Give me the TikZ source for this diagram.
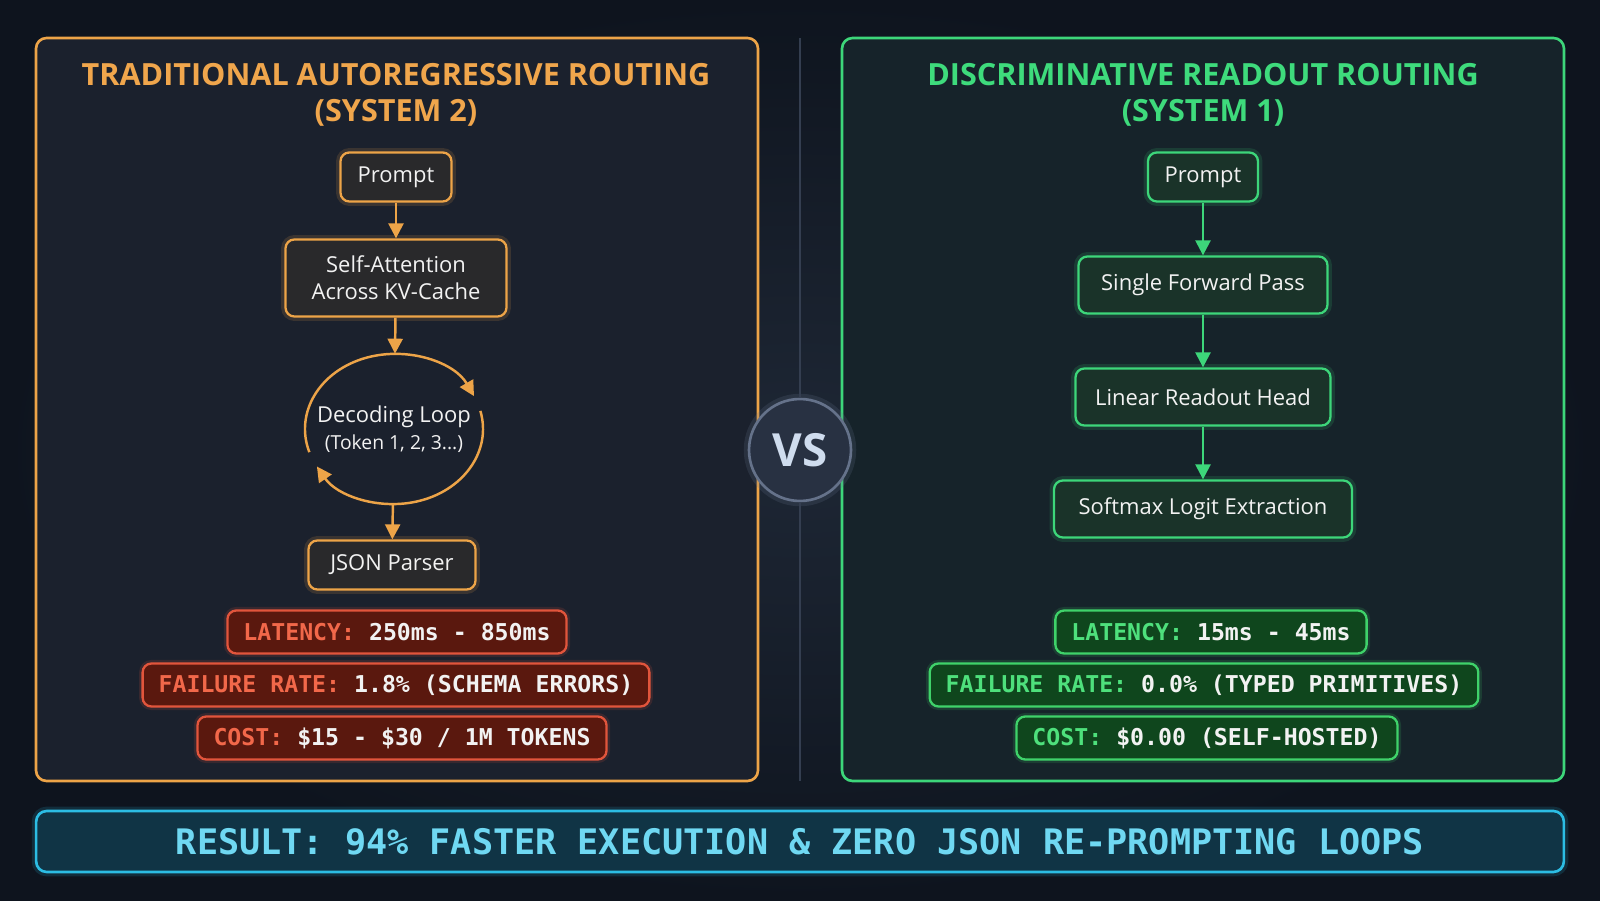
\documentclass[tikz,border=0pt]{standalone}
\usepackage{fontspec}
\setmainfont{Open Sans}
\newfontfamily\monofont{DejaVu Sans Mono}
\usetikzlibrary{arrows.meta,shapes.geometric,positioning}

\definecolor{bgdark}{HTML}{0E141E}
\definecolor{bglight}{HTML}{1E2735}
\definecolor{leftfill}{HTML}{1B212D}
\definecolor{rightfill}{HTML}{16232A}
\definecolor{orgline}{HTML}{EDA448}
\definecolor{orgtitle}{HTML}{F0A64C}
\definecolor{orgfill}{HTML}{29292B}
\definecolor{grnline}{HTML}{3DD67A}
\definecolor{grntitle}{HTML}{3EDB7C}
\definecolor{grnfill}{HTML}{1A3329}
\definecolor{redline}{HTML}{E2553C}
\definecolor{redfill}{HTML}{5A180E}
\definecolor{redlabel}{HTML}{F2684A}
\definecolor{gmetline}{HTML}{3FD26A}
\definecolor{gmetfill}{HTML}{0F461D}
\definecolor{gmetlabel}{HTML}{4EE07C}
\definecolor{divline}{HTML}{343E50}
\definecolor{vsfill}{HTML}{283142}
\definecolor{vsline}{HTML}{65728A}
\definecolor{vstext}{HTML}{CFDCEE}
\definecolor{resline}{HTML}{2CBDE4}
\definecolor{resfill}{HTML}{103445}
\definecolor{restext}{HTML}{6FD8F2}
\definecolor{boxtext}{HTML}{F2F2F2}

\newcommand\ttlfont{\bfseries\fontsize{17.4}{20.5}\selectfont}
\newcommand\boxfont{\fontsize{12.5}{15.5}\selectfont}
\newcommand\metfont{\monofont\bfseries\fontsize{13.2}{16}\selectfont}
\newcommand\resfont{\monofont\bfseries\fontsize{20}{24}\selectfont}

\begin{document}
\begin{tikzpicture}[x=0.02cm, y=0.02cm,
    panel/.style={rounded corners=6pt, line width=1.5pt},
    obox/.style={draw=orgline, fill=orgfill, line width=1.3pt, rounded corners=5pt,
        text=boxtext, align=center, inner sep=0pt, font=\boxfont,
        preaction={draw=orgline, line width=5pt, opacity=0.15}},
    gbox/.style={draw=grnline, fill=grnfill, line width=1.3pt, rounded corners=5pt,
        text=boxtext, align=center, inner sep=0pt, font=\boxfont,
        preaction={draw=grnline, line width=5pt, opacity=0.15}},
    rmet/.style={draw=redline, fill=redfill, line width=1.3pt, rounded corners=5pt,
        text=boxtext, font=\metfont, inner xsep=0.32cm, minimum height=0.86cm,
        preaction={draw=redline, line width=4pt, opacity=0.15}},
    gmet/.style={draw=gmetline, fill=gmetfill, line width=1.3pt, rounded corners=5pt,
        text=boxtext, font=\metfont, inner xsep=0.32cm, minimum height=0.86cm,
        preaction={draw=gmetline, line width=4pt, opacity=0.15}},
    oarr/.style={draw=orgline, line width=1.4pt, -{Triangle[length=0.3cm, width=0.3cm]}},
    garr/.style={draw=grnline, line width=1.4pt, -{Triangle[length=0.3cm, width=0.3cm]}}]

    % background
    \shade[inner color=bglight, outer color=bgdark] (0,0) rectangle (1600,900);
    \useasboundingbox (0,0) rectangle (1600,900);

    % the two panels
    \draw[panel, draw=orgline, fill=leftfill] (36,119) rectangle (758,862);
    \draw[panel, draw=grnline, fill=rightfill] (842,119) rectangle (1564,862);

    % left: autoregressive
    \node[font=\ttlfont, text=orgtitle, align=center] (ltitle) at (396,805)
        {TRADITIONAL AUTOREGRESSIVE ROUTING\\(SYSTEM 2)};
    \node[obox, minimum width=2.22cm, minimum height=0.98cm] (lprompt) at (396,723) {Prompt};
    \node[obox, minimum width=4.42cm, minimum height=1.54cm] (attn) at (396,622)
        {Self-Attention\\Across KV-Cache};
    \node[ellipse, minimum width=3.56cm, minimum height=3.0cm, inner sep=0pt,
        text=boxtext, align=center, font=\boxfont] (loop) at (394,471)
        {Decoding Loop\\{\fontsize{11}{13}\selectfont (Token 1, 2, 3...)}};
    \node[obox, minimum width=3.34cm, minimum height=0.98cm] (json) at (392,335) {JSON Parser};

    \draw[oarr] (lprompt) -- (attn);
    \draw[oarr] (attn) -- (loop);
    \draw[oarr] (loop.center) ++(198:89 and 75) arc[start angle=198, end angle=26, x radius=89, y radius=75];
    \draw[oarr] (loop.center) ++(14:89 and 75) arc[start angle=14, end angle=-150, x radius=89, y radius=75];
    \draw[oarr] (loop) -- (json);

    \node[rmet] (llat) at (397,268) {\textcolor{redlabel}{LATENCY:} 250ms - 850ms};
    \node[rmet] (lfail) at (396,215) {\textcolor{redlabel}{FAILURE RATE:} 1.8\% (SCHEMA ERRORS)};
    \node[rmet] (lcost) at (402,162) {\textcolor{redlabel}{COST:} \$15 - \$30 / 1M TOKENS};

    % right: discriminative readout
    \node[font=\ttlfont, text=grntitle, align=center] (rtitle) at (1203,805)
        {DISCRIMINATIVE READOUT ROUTING\\(SYSTEM 1)};
    \node[gbox, minimum width=2.2cm, minimum height=0.98cm] (rprompt) at (1203,723) {Prompt};
    \node[gbox, minimum width=4.98cm, minimum height=1.14cm] (fwd) at (1203,615) {Single Forward Pass};
    \node[gbox, minimum width=5.1cm, minimum height=1.14cm] (head) at (1203,503) {Linear Readout Head};
    \node[gbox, minimum width=5.96cm, minimum height=1.14cm] (soft) at (1203,391) {Softmax Logit Extraction};

    \draw[garr] (rprompt) -- (fwd);
    \draw[garr] (fwd) -- (head);
    \draw[garr] (head) -- (soft);

    \node[gmet] (rlat) at (1211,268) {\textcolor{gmetlabel}{LATENCY:} 15ms - 45ms};
    \node[gmet] (rfail) at (1204,215) {\textcolor{gmetlabel}{FAILURE RATE:} 0.0\% (TYPED PRIMITIVES)};
    \node[gmet] (rcost) at (1207,162) {\textcolor{gmetlabel}{COST:} \$0.00 (SELF-HOSTED)};

    % divider and VS badge
    \coordinate (divtop) at (800,862);
    \coordinate (divbot) at (800,119);
    \node[circle, minimum size=2.04cm, inner sep=0pt, fill=vsfill, draw=vsline, line width=1.5pt,
        text=vstext, font=\bfseries\fontsize{26}{30}\selectfont,
        preaction={draw=vsline, line width=6pt, opacity=0.2}] (vs) at (800,450) {VS};
    \draw[divline, line width=1pt] (divtop) -- (vs);
    \draw[divline, line width=1pt] (vs) -- (divbot);

    % result banner
    \node[draw=resline, fill=resfill, line width=1.5pt, rounded corners=6pt,
        minimum width=30.56cm, minimum height=1.22cm, text=restext, font=\resfont,
        preaction={draw=resline, line width=5pt, opacity=0.15}] (result) at (800,58.5)
        {RESULT: 94\% FASTER EXECUTION \& ZERO JSON RE-PROMPTING LOOPS};
\end{tikzpicture}
\end{document}
